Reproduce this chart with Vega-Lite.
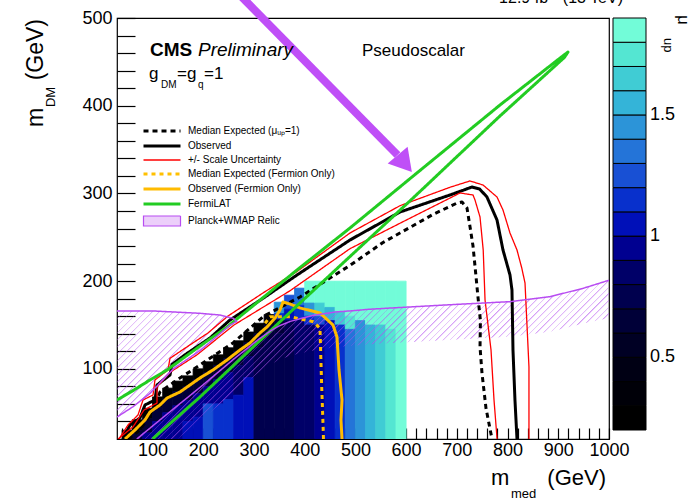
{
"$schema":"https://vega.github.io/schema/vega-lite/v6.json",
"width":492,"height":421,
"autosize":"none",
"padding":{"left":117,"top":18,"right":89,"bottom":62},
"background":"white",
"config":{"view":{"stroke":"black","strokeWidth":1.2},"axis":{"grid":false,"domain":false,"labelFont":"Liberation Sans","labelFontSize":18,"labelColor":"black","tickColor":"black","tickWidth":1.2,"labelFlush":false,"labelOverlap":false,"labelBound":false}},
"resolve":{"scale":{"stroke":"independent","strokeDash":"independent"},"legend":{"stroke":"independent","strokeDash":"independent"},"axis":{"x":"independent","y":"independent"}},
"datasets":{
"heat":[
{"x":40,"x2":60,"y":20,"y2":30,"mu":0.35},
{"x":60,"x2":80,"y":30,"y2":42,"mu":0.25},{"x":60,"x2":80,"y":20,"y2":30,"mu":0.65},
{"x":80,"x2":100,"y":43,"y2":55,"mu":0.25},{"x":80,"x2":100,"y":27,"y2":43,"mu":0.65},{"x":80,"x2":100,"y":20,"y2":27,"mu":0.95},
{"x":100,"x2":120,"y":56,"y2":68,"mu":0.25},{"x":100,"x2":120,"y":40,"y2":56,"mu":0.65},{"x":100,"x2":120,"y":20,"y2":40,"mu":0.95},
{"x":120,"x2":140,"y":66,"y2":78,"mu":0.25},{"x":120,"x2":140,"y":50,"y2":66,"mu":0.65},{"x":120,"x2":140,"y":20,"y2":50,"mu":0.95},
{"x":140,"x2":160,"y":74,"y2":86,"mu":0.25},{"x":140,"x2":160,"y":58,"y2":74,"mu":0.65},{"x":140,"x2":160,"y":20,"y2":58,"mu":0.95},
{"x":160,"x2":180,"y":80,"y2":92,"mu":0.25},{"x":160,"x2":180,"y":64,"y2":80,"mu":0.65},{"x":160,"x2":180,"y":40,"y2":64,"mu":0.95},{"x":160,"x2":180,"y":20,"y2":40,"mu":1.05},
{"x":180,"x2":200,"y":88,"y2":100,"mu":0.25},{"x":180,"x2":200,"y":72,"y2":88,"mu":0.65},{"x":180,"x2":200,"y":45,"y2":72,"mu":0.95},{"x":180,"x2":200,"y":20,"y2":45,"mu":1.05},
{"x":200,"x2":220,"y":96,"y2":108,"mu":0.25},{"x":200,"x2":220,"y":80,"y2":96,"mu":0.65},{"x":200,"x2":220,"y":60,"y2":80,"mu":0.95},{"x":200,"x2":220,"y":20,"y2":60,"mu":1.25},
{"x":220,"x2":240,"y":104,"y2":116,"mu":0.25},{"x":220,"x2":240,"y":88,"y2":104,"mu":0.65},{"x":220,"x2":240,"y":60,"y2":88,"mu":0.95},{"x":220,"x2":240,"y":20,"y2":60,"mu":1.15},
{"x":240,"x2":260,"y":112,"y2":124,"mu":0.25},{"x":240,"x2":260,"y":96,"y2":112,"mu":0.65},{"x":240,"x2":260,"y":65,"y2":96,"mu":0.95},{"x":240,"x2":260,"y":20,"y2":65,"mu":1.15},
{"x":260,"x2":280,"y":120,"y2":132,"mu":0.25},{"x":260,"x2":280,"y":104,"y2":120,"mu":0.65},{"x":260,"x2":280,"y":70,"y2":104,"mu":0.85},{"x":260,"x2":280,"y":20,"y2":70,"mu":1.05},
{"x":280,"x2":300,"y":130,"y2":142,"mu":0.25},{"x":280,"x2":300,"y":114,"y2":130,"mu":0.65},{"x":280,"x2":300,"y":90,"y2":114,"mu":0.85},{"x":280,"x2":300,"y":20,"y2":90,"mu":1.05},
{"x":300,"x2":320,"y":140,"y2":152,"mu":0.25},{"x":300,"x2":320,"y":124,"y2":140,"mu":0.65},{"x":300,"x2":320,"y":20,"y2":124,"mu":0.75},
{"x":320,"x2":340,"y":150,"y2":162,"mu":0.35},{"x":320,"x2":340,"y":134,"y2":150,"mu":0.65},{"x":320,"x2":340,"y":20,"y2":134,"mu":0.75},
{"x":340,"x2":360,"y":163,"y2":176,"mu":1.45},{"x":340,"x2":360,"y":156,"y2":163,"mu":1.15},{"x":340,"x2":360,"y":140,"y2":156,"mu":0.65},{"x":340,"x2":360,"y":20,"y2":140,"mu":0.75},
{"x":360,"x2":380,"y":168,"y2":184,"mu":1.25},{"x":360,"x2":380,"y":155,"y2":168,"mu":1.05},{"x":360,"x2":380,"y":20,"y2":155,"mu":0.75},
{"x":380,"x2":400,"y":172,"y2":192,"mu":1.35},{"x":380,"x2":400,"y":157,"y2":172,"mu":1.15},{"x":380,"x2":400,"y":20,"y2":157,"mu":0.85},
{"x":400,"x2":420,"y":175,"y2":200,"mu":1.85},{"x":400,"x2":420,"y":160,"y2":175,"mu":1.45},{"x":400,"x2":420,"y":150,"y2":160,"mu":1.15},{"x":400,"x2":420,"y":20,"y2":150,"mu":0.85},
{"x":420,"x2":440,"y":175,"y2":200,"mu":1.85},{"x":420,"x2":440,"y":160,"y2":175,"mu":1.65},{"x":420,"x2":440,"y":150,"y2":160,"mu":1.25},{"x":420,"x2":440,"y":20,"y2":150,"mu":0.95},
{"x":440,"x2":460,"y":170,"y2":200,"mu":1.85},{"x":440,"x2":460,"y":155,"y2":170,"mu":1.55},{"x":440,"x2":460,"y":20,"y2":155,"mu":1.05},
{"x":460,"x2":480,"y":165,"y2":200,"mu":1.85},{"x":460,"x2":480,"y":150,"y2":165,"mu":1.65},{"x":460,"x2":480,"y":20,"y2":150,"mu":1.15},
{"x":480,"x2":500,"y":160,"y2":200,"mu":1.85},{"x":480,"x2":500,"y":145,"y2":160,"mu":1.75},{"x":480,"x2":500,"y":20,"y2":145,"mu":1.35},
{"x":500,"x2":520,"y":155,"y2":200,"mu":1.85},{"x":500,"x2":520,"y":20,"y2":155,"mu":1.45},
{"x":520,"x2":540,"y":150,"y2":200,"mu":1.85},{"x":520,"x2":540,"y":20,"y2":150,"mu":1.55},
{"x":540,"x2":560,"y":150,"y2":200,"mu":1.85},{"x":540,"x2":560,"y":20,"y2":150,"mu":1.65},
{"x":560,"x2":580,"y":145,"y2":200,"mu":1.85},{"x":560,"x2":580,"y":20,"y2":145,"mu":1.75},
{"x":580,"x2":600,"y":20,"y2":200,"mu":1.85}
],
"relicfill":[
{"r":"A","x":30,"t":166,"b":45},{"r":"A","x":62,"t":166,"b":57},{"r":"A","x":95,"t":166,"b":72},{"r":"A","x":141,"t":165.5,"b":100},{"r":"A","x":194,"t":163.3,"b":121},{"r":"A","x":227,"t":161.8,"b":137},{"r":"A","x":253,"t":158.5,"b":150},{"r":"A","x":262,"t":156.3,"b":154},{"r":"A","x":266,"t":154,"b":154},
{"r":"B","x":69,"t":20,"b":-18},{"r":"B","x":130,"t":49,"b":11},{"r":"B","x":194,"t":79,"b":41},{"r":"B","x":260,"t":111,"b":73},{"r":"B","x":310,"t":134,"b":96},{"r":"B","x":332,"t":143,"b":105},{"r":"B","x":350,"t":149,"b":110},{"r":"B","x":371,"t":154,"b":115},{"r":"B","x":417,"t":161,"b":121},{"r":"B","x":463,"t":165,"b":125},{"r":"B","x":489,"t":166,"b":126},{"r":"B","x":529,"t":168,"b":128},{"r":"B","x":621,"t":171,"b":131},{"r":"B","x":700,"t":173.5,"b":133.5},{"r":"B","x":805,"t":176.6,"b":136.6},{"r":"B","x":884,"t":182.3,"b":142.3},{"r":"B","x":949,"t":191.8,"b":151.8},{"r":"B","x":1000,"t":201,"b":158}
],
"lines":[
{"s":"Median Expected (μᵤₚ=1)","id":"e","o":0,"x":51.7,"y":20},{"s":"Median Expected (μᵤₚ=1)","id":"e","o":1,"x":75.3,"y":30.3},{"s":"Median Expected (μᵤₚ=1)","id":"e","o":2,"x":95.1,"y":47.4},{"s":"Median Expected (μᵤₚ=1)","id":"e","o":3,"x":114.8,"y":73.6},{"s":"Median Expected (μᵤₚ=1)","id":"e","o":4,"x":154.2,"y":89.6},{"s":"Median Expected (μᵤₚ=1)","id":"e","o":5,"x":193.6,"y":104.4},{"s":"Median Expected (μᵤₚ=1)","id":"e","o":6,"x":258.7,"y":129.5},{"s":"Median Expected (μᵤₚ=1)","id":"e","o":7,"x":319.8,"y":160.2},{"s":"Median Expected (μᵤₚ=1)","id":"e","o":8,"x":390.8,"y":181.9},{"s":"Median Expected (μᵤₚ=1)","id":"e","o":9,"x":489.4,"y":218},{"s":"Median Expected (μᵤₚ=1)","id":"e","o":10,"x":554.4,"y":244},{"s":"Median Expected (μᵤₚ=1)","id":"e","o":11,"x":653,"y":276},{"s":"Median Expected (μᵤₚ=1)","id":"e","o":12,"x":700.3,"y":289},{"s":"Median Expected (μᵤₚ=1)","id":"e","o":13,"x":710.2,"y":290.2},{"s":"Median Expected (μᵤₚ=1)","id":"e","o":14,"x":720,"y":283.4},{"s":"Median Expected (μᵤₚ=1)","id":"e","o":15,"x":726,"y":262},{"s":"Median Expected (μᵤₚ=1)","id":"e","o":16,"x":731.9,"y":240},{"s":"Median Expected (μᵤₚ=1)","id":"e","o":17,"x":737,"y":210},{"s":"Median Expected (μᵤₚ=1)","id":"e","o":18,"x":742,"y":180},{"s":"Median Expected (μᵤₚ=1)","id":"e","o":19,"x":746.5,"y":155},{"s":"Median Expected (μᵤₚ=1)","id":"e","o":20,"x":745.7,"y":125},{"s":"Median Expected (μᵤₚ=1)","id":"e","o":21,"x":749.6,"y":95},{"s":"Median Expected (μᵤₚ=1)","id":"e","o":22,"x":757.5,"y":55},{"s":"Median Expected (μᵤₚ=1)","id":"e","o":23,"x":769.3,"y":20},
{"s":"Observed","id":"o","o":0,"x":41.8,"y":20},{"s":"Observed","id":"o","o":1,"x":55.6,"y":36},{"s":"Observed","id":"o","o":2,"x":75.3,"y":44},{"s":"Observed","id":"o","o":3,"x":85.2,"y":58.8},{"s":"Observed","id":"o","o":4,"x":104.9,"y":64.5},{"s":"Observed","id":"o","o":5,"x":108.9,"y":81.6},{"s":"Observed","id":"o","o":6,"x":134.5,"y":93},{"s":"Observed","id":"o","o":7,"x":138.4,"y":105},{"s":"Observed","id":"o","o":8,"x":164.1,"y":116},{"s":"Observed","id":"o","o":9,"x":213.4,"y":135.2},{"s":"Observed","id":"o","o":10,"x":252.8,"y":155.7},{"s":"Observed","id":"o","o":11,"x":321.8,"y":181.9},{"s":"Observed","id":"o","o":12,"x":384.9,"y":207},{"s":"Observed","id":"o","o":13,"x":489.4,"y":246.9},{"s":"Observed","id":"o","o":14,"x":588,"y":278.8},{"s":"Observed","id":"o","o":15,"x":686.5,"y":298.2},{"s":"Observed","id":"o","o":16,"x":729.9,"y":307.3},{"s":"Observed","id":"o","o":17,"x":745,"y":305},{"s":"Observed","id":"o","o":18,"x":759.4,"y":295.9},{"s":"Observed","id":"o","o":19,"x":779.2,"y":269.7},{"s":"Observed","id":"o","o":20,"x":791,"y":235.5},{"s":"Observed","id":"o","o":21,"x":804.8,"y":207},{"s":"Observed","id":"o","o":22,"x":808.7,"y":189.9},{"s":"Observed","id":"o","o":23,"x":810.7,"y":121.5},{"s":"Observed","id":"o","o":24,"x":814.6,"y":64.5},{"s":"Observed","id":"o","o":25,"x":818.6,"y":20},
{"s":"+/- Scale Uncertainty","id":"r1","o":0,"x":32,"y":20},{"s":"+/- Scale Uncertainty","id":"r1","o":1,"x":61.5,"y":33.7},{"s":"+/- Scale Uncertainty","id":"r1","o":2,"x":83.2,"y":53},{"s":"+/- Scale Uncertainty","id":"r1","o":3,"x":108.9,"y":61},{"s":"+/- Scale Uncertainty","id":"r1","o":4,"x":108.9,"y":79.3},{"s":"+/- Scale Uncertainty","id":"r1","o":5,"x":134.5,"y":96},{"s":"+/- Scale Uncertainty","id":"r1","o":6,"x":187.7,"y":116},{"s":"+/- Scale Uncertainty","id":"r1","o":7,"x":260.7,"y":150},{"s":"+/- Scale Uncertainty","id":"r1","o":8,"x":371,"y":189},{"s":"+/- Scale Uncertainty","id":"r1","o":9,"x":489.4,"y":237},{"s":"+/- Scale Uncertainty","id":"r1","o":10,"x":588,"y":266},{"s":"+/- Scale Uncertainty","id":"r1","o":11,"x":706.3,"y":300.5},{"s":"+/- Scale Uncertainty","id":"r1","o":12,"x":731.9,"y":298.2},{"s":"+/- Scale Uncertainty","id":"r1","o":13,"x":735.8,"y":292.5},{"s":"+/- Scale Uncertainty","id":"r1","o":14,"x":745.7,"y":273.1},{"s":"+/- Scale Uncertainty","id":"r1","o":15,"x":752,"y":235.5},{"s":"+/- Scale Uncertainty","id":"r1","o":16,"x":755.6,"y":178.5},{"s":"+/- Scale Uncertainty","id":"r1","o":17,"x":767.4,"y":121.5},{"s":"+/- Scale Uncertainty","id":"r1","o":18,"x":773.3,"y":64.5},{"s":"+/- Scale Uncertainty","id":"r1","o":19,"x":779.3,"y":20},
{"s":"+/- Scale Uncertainty","id":"r2","o":0,"x":33.9,"y":20},{"s":"+/- Scale Uncertainty","id":"r2","o":1,"x":51.7,"y":36},{"s":"+/- Scale Uncertainty","id":"r2","o":2,"x":71.4,"y":47.4},{"s":"+/- Scale Uncertainty","id":"r2","o":3,"x":81.3,"y":64.5},{"s":"+/- Scale Uncertainty","id":"r2","o":4,"x":101,"y":70.2},{"s":"+/- Scale Uncertainty","id":"r2","o":5,"x":104.9,"y":87.3},{"s":"+/- Scale Uncertainty","id":"r2","o":6,"x":130.5,"y":98.7},{"s":"+/- Scale Uncertainty","id":"r2","o":7,"x":134.5,"y":112},{"s":"+/- Scale Uncertainty","id":"r2","o":8,"x":160.1,"y":122},{"s":"+/- Scale Uncertainty","id":"r2","o":9,"x":209.4,"y":140.9},{"s":"+/- Scale Uncertainty","id":"r2","o":10,"x":248.8,"y":160.2},{"s":"+/- Scale Uncertainty","id":"r2","o":11,"x":317.8,"y":186.5},{"s":"+/- Scale Uncertainty","id":"r2","o":12,"x":384.9,"y":211},{"s":"+/- Scale Uncertainty","id":"r2","o":13,"x":489.4,"y":254.9},{"s":"+/- Scale Uncertainty","id":"r2","o":14,"x":588,"y":286},{"s":"+/- Scale Uncertainty","id":"r2","o":15,"x":686.5,"y":307},{"s":"+/- Scale Uncertainty","id":"r2","o":16,"x":725.9,"y":314.2},{"s":"+/- Scale Uncertainty","id":"r2","o":17,"x":751.6,"y":309.6},{"s":"+/- Scale Uncertainty","id":"r2","o":18,"x":779.2,"y":295.9},{"s":"+/- Scale Uncertainty","id":"r2","o":19,"x":791,"y":281.1},{"s":"+/- Scale Uncertainty","id":"r2","o":20,"x":804.8,"y":254.9},{"s":"+/- Scale Uncertainty","id":"r2","o":21,"x":818.6,"y":235.5},{"s":"+/- Scale Uncertainty","id":"r2","o":22,"x":828,"y":215},{"s":"+/- Scale Uncertainty","id":"r2","o":23,"x":834.4,"y":197.9},{"s":"+/- Scale Uncertainty","id":"r2","o":24,"x":842.2,"y":102.1},{"s":"+/- Scale Uncertainty","id":"r2","o":25,"x":842.2,"y":20},
{"s":"Median Expected (Fermion Only)","id":"fe","o":0,"x":322,"y":152},{"s":"Median Expected (Fermion Only)","id":"fe","o":1,"x":331.6,"y":159.4},{"s":"Median Expected (Fermion Only)","id":"fe","o":2,"x":371.1,"y":159.4},{"s":"Median Expected (Fermion Only)","id":"fe","o":3,"x":417,"y":153.7},{"s":"Median Expected (Fermion Only)","id":"fe","o":4,"x":430.2,"y":146.2},{"s":"Median Expected (Fermion Only)","id":"fe","o":5,"x":431.6,"y":117.7},{"s":"Median Expected (Fermion Only)","id":"fe","o":6,"x":433.6,"y":79.6},{"s":"Median Expected (Fermion Only)","id":"fe","o":7,"x":436.8,"y":26.5},{"s":"Median Expected (Fermion Only)","id":"fe","o":8,"x":437,"y":20},
{"s":"Observed (Fermion Only)","id":"fo","o":0,"x":45.8,"y":20},{"s":"Observed (Fermion Only)","id":"fo","o":1,"x":65.5,"y":30.3},{"s":"Observed (Fermion Only)","id":"fo","o":2,"x":85.2,"y":41.7},{"s":"Observed (Fermion Only)","id":"fo","o":3,"x":95.1,"y":50.8},{"s":"Observed (Fermion Only)","id":"fo","o":4,"x":114.8,"y":58.8},{"s":"Observed (Fermion Only)","id":"fo","o":5,"x":128.6,"y":66.7},{"s":"Observed (Fermion Only)","id":"fo","o":6,"x":154.2,"y":73.6},{"s":"Observed (Fermion Only)","id":"fo","o":7,"x":173.9,"y":81.6},{"s":"Observed (Fermion Only)","id":"fo","o":8,"x":193.6,"y":89.6},{"s":"Observed (Fermion Only)","id":"fo","o":9,"x":219.3,"y":98.7},{"s":"Observed (Fermion Only)","id":"fo","o":10,"x":246.9,"y":110.1},{"s":"Observed (Fermion Only)","id":"fo","o":11,"x":272.5,"y":121.5},{"s":"Observed (Fermion Only)","id":"fo","o":12,"x":292.2,"y":129.5},{"s":"Observed (Fermion Only)","id":"fo","o":13,"x":311.9,"y":140.9},{"s":"Observed (Fermion Only)","id":"fo","o":14,"x":325.7,"y":147.7},{"s":"Observed (Fermion Only)","id":"fo","o":15,"x":341.5,"y":157.9},{"s":"Observed (Fermion Only)","id":"fo","o":16,"x":351.4,"y":167},{"s":"Observed (Fermion Only)","id":"fo","o":17,"x":357.3,"y":176.2},{"s":"Observed (Fermion Only)","id":"fo","o":18,"x":371.1,"y":173.9},{"s":"Observed (Fermion Only)","id":"fo","o":19,"x":390.8,"y":169.4},{"s":"Observed (Fermion Only)","id":"fo","o":20,"x":430.2,"y":163.7},{"s":"Observed (Fermion Only)","id":"fo","o":21,"x":455.8,"y":150},{"s":"Observed (Fermion Only)","id":"fo","o":22,"x":463.7,"y":136.3},{"s":"Observed (Fermion Only)","id":"fo","o":23,"x":467.7,"y":98.7},{"s":"Observed (Fermion Only)","id":"fo","o":24,"x":473.6,"y":64.5},{"s":"Observed (Fermion Only)","id":"fo","o":25,"x":471.6,"y":41.7},{"s":"Observed (Fermion Only)","id":"fo","o":26,"x":473.6,"y":20},
{"s":"FermiLAT","id":"g","o":0,"x":30,"y":64.5},{"s":"FermiLAT","id":"g","o":1,"x":63.5,"y":75.9},{"s":"FermiLAT","id":"g","o":2,"x":95.1,"y":87.3},{"s":"FermiLAT","id":"g","o":3,"x":128.6,"y":98.7},{"s":"FermiLAT","id":"g","o":4,"x":193.6,"y":126},{"s":"FermiLAT","id":"g","o":5,"x":246.9,"y":147.7},{"s":"FermiLAT","id":"g","o":6,"x":384.9,"y":212.7},{"s":"FermiLAT","id":"g","o":7,"x":489.4,"y":260.6},{"s":"FermiLAT","id":"g","o":8,"x":611.6,"y":318.7},{"s":"FermiLAT","id":"g","o":9,"x":785.1,"y":400.8},{"s":"FermiLAT","id":"g","o":10,"x":905,"y":455},{"s":"FermiLAT","id":"g","o":11,"x":919.2,"y":461.2},{"s":"FermiLAT","id":"g","o":12,"x":912,"y":455},{"s":"FermiLAT","id":"g","o":13,"x":785.1,"y":388.3},{"s":"FermiLAT","id":"g","o":14,"x":611.6,"y":293.6},{"s":"FermiLAT","id":"g","o":15,"x":503.2,"y":235.5},{"s":"FermiLAT","id":"g","o":16,"x":390.8,"y":175.1},{"s":"FermiLAT","id":"g","o":17,"x":292.2,"y":121.5},{"s":"FermiLAT","id":"g","o":18,"x":193.6,"y":67.9},{"s":"FermiLAT","id":"g","o":19,"x":100,"y":20},
{"s":"Planck+WMAP Relic","id":"ra","o":0,"x":30,"y":166},{"s":"Planck+WMAP Relic","id":"ra","o":1,"x":100,"y":166},{"s":"Planck+WMAP Relic","id":"ra","o":2,"x":194,"y":163.3},{"s":"Planck+WMAP Relic","id":"ra","o":3,"x":233,"y":161.4},{"s":"Planck+WMAP Relic","id":"ra","o":4,"x":259,"y":157.6},{"s":"Planck+WMAP Relic","id":"ra","o":5,"x":266,"y":154},{"s":"Planck+WMAP Relic","id":"ra","o":6,"x":253,"y":150},{"s":"Planck+WMAP Relic","id":"ra","o":7,"x":227,"y":137},{"s":"Planck+WMAP Relic","id":"ra","o":8,"x":194,"y":121},{"s":"Planck+WMAP Relic","id":"ra","o":9,"x":141,"y":100},{"s":"Planck+WMAP Relic","id":"ra","o":10,"x":95,"y":72},{"s":"Planck+WMAP Relic","id":"ra","o":11,"x":62,"y":57},{"s":"Planck+WMAP Relic","id":"ra","o":12,"x":30,"y":45},
{"s":"Planck+WMAP Relic","id":"rb","o":0,"x":69,"y":20},{"s":"Planck+WMAP Relic","id":"rb","o":1,"x":130,"y":49},{"s":"Planck+WMAP Relic","id":"rb","o":2,"x":194,"y":79},{"s":"Planck+WMAP Relic","id":"rb","o":3,"x":260,"y":111},{"s":"Planck+WMAP Relic","id":"rb","o":4,"x":310,"y":134},{"s":"Planck+WMAP Relic","id":"rb","o":5,"x":332,"y":143},{"s":"Planck+WMAP Relic","id":"rb","o":6,"x":350,"y":149},{"s":"Planck+WMAP Relic","id":"rb","o":7,"x":371,"y":154},{"s":"Planck+WMAP Relic","id":"rb","o":8,"x":417,"y":161},{"s":"Planck+WMAP Relic","id":"rb","o":9,"x":463,"y":165},{"s":"Planck+WMAP Relic","id":"rb","o":10,"x":489,"y":166},{"s":"Planck+WMAP Relic","id":"rb","o":11,"x":529,"y":168},{"s":"Planck+WMAP Relic","id":"rb","o":12,"x":621,"y":171},{"s":"Planck+WMAP Relic","id":"rb","o":13,"x":700,"y":173.5},{"s":"Planck+WMAP Relic","id":"rb","o":14,"x":805,"y":176.6},{"s":"Planck+WMAP Relic","id":"rb","o":15,"x":884,"y":182.3},{"s":"Planck+WMAP Relic","id":"rb","o":16,"x":949,"y":191.8},{"s":"Planck+WMAP Relic","id":"rb","o":17,"x":1000,"y":201}
],
"arrow":[{"x":262.6,"y":531.9,"o":0},{"x":583,"y":343.8,"o":1}],
"head":[{"x":597.3,"y":334.1}],
"one":[{}]
},
"layer":[
{"data":{"name":"heat"},
 "mark":{"type":"rect","clip":true,"strokeWidth":0.8},
 "encoding":{
  "x":{"field":"x","type":"quantitative","title":null,"scale":{"domain":[30,1000],"nice":false,"zero":false},
   "axis":{"orient":"bottom","values":[40,60,80,100,120,140,160,180,200,220,240,260,280,300,320,340,360,380,400,420,440,460,480,500,520,540,560,580,600,620,640,660,680,700,720,740,760,780,800,820,840,860,880,900,920,940,960,980,1000],"format":"d","labelExpr":"datum.value % 100 === 0 ? datum.label : ''","tickSize":-11,"labelPadding":13,"encode":{"ticks":{"update":{"y2":{"signal":"datum.value % 100 === 0 ? -11 : -6"}}}}}},
  "x2":{"field":"x2"},
  "y":{"field":"y","type":"quantitative","title":null,"scale":{"domain":[20,500],"nice":false,"zero":false},
   "axis":{"orient":"left","values":[40,60,80,100,120,140,160,180,200,220,240,260,280,300,320,340,360,380,400,420,440,460,480,500],"format":"d","labelExpr":"datum.value % 100 === 0 ? datum.label : ''","tickSize":-18,"labelPadding":23,"encode":{"ticks":{"update":{"x2":{"signal":"datum.value % 100 === 0 ? 18 : 9"}}}}}},
  "y2":{"field":"y2"},
  "fill":{"field":"mu","type":"quantitative",
   "scale":{"type":"quantize","domain":[0.2,1.9],"range":["#000000","#000008","#000014","#000024","#000038","#00004e","#000068","#000090","#0010b8","#0830cc","#1850d4","#2474d8","#2c94d8","#34b4d8","#40ccd4","#54e6d2","#72fcd8"]},
   "legend":{"type":"gradient","orient":"none","legendX":496,"legendY":0,"direction":"vertical","gradientLength":412,"gradientThickness":33,"title":null,"padding":0,"labelFont":"Liberation Sans","labelFontSize":18,"labelColor":"black","labelOffset":4,"labelOverlap":false,"gradientStrokeColor":"black","gradientStrokeWidth":1,
    "labelExpr":"abs(datum.value-0.5)<0.01 ? '0.5' : abs(datum.value-1)<0.01 ? '1' : abs(datum.value-1.5)<0.01 ? '1.5' : ''"}},
  "stroke":{"field":"mu","type":"quantitative","legend":null,
   "scale":{"type":"quantize","domain":[0.2,1.9],"range":["#000000","#000008","#000014","#000024","#000038","#00004e","#000068","#000090","#0010b8","#0830cc","#1850d4","#2474d8","#2c94d8","#34b4d8","#40ccd4","#54e6d2","#72fcd8"]}}
 }},
{"data":{"name":"relicfill"},
 "transform":[{"filter":"datum.r === 'A'"}],
 "mark":{"type":"area","clip":true,"fill":{"gradient":"linear","x1":0,"y1":0,"x2":1.057,"y2":0.936,"stops":[
{"offset":0,"color":"rgba(180,80,240,0.6)"},{"offset":0.009,"color":"rgba(180,80,240,0)"},{"offset":0.03125,"color":"rgba(180,80,240,0)"},
{"offset":0.03125,"color":"rgba(180,80,240,0.6)"},{"offset":0.04025,"color":"rgba(180,80,240,0)"},{"offset":0.0625,"color":"rgba(180,80,240,0)"},
{"offset":0.0625,"color":"rgba(180,80,240,0.6)"},{"offset":0.0715,"color":"rgba(180,80,240,0)"},{"offset":0.09375,"color":"rgba(180,80,240,0)"},
{"offset":0.09375,"color":"rgba(180,80,240,0.6)"},{"offset":0.10275,"color":"rgba(180,80,240,0)"},{"offset":0.125,"color":"rgba(180,80,240,0)"},
{"offset":0.125,"color":"rgba(180,80,240,0.6)"},{"offset":0.134,"color":"rgba(180,80,240,0)"},{"offset":0.15625,"color":"rgba(180,80,240,0)"},
{"offset":0.15625,"color":"rgba(180,80,240,0.6)"},{"offset":0.16525,"color":"rgba(180,80,240,0)"},{"offset":0.1875,"color":"rgba(180,80,240,0)"},
{"offset":0.1875,"color":"rgba(180,80,240,0.6)"},{"offset":0.1965,"color":"rgba(180,80,240,0)"},{"offset":0.21875,"color":"rgba(180,80,240,0)"},
{"offset":0.21875,"color":"rgba(180,80,240,0.6)"},{"offset":0.22775,"color":"rgba(180,80,240,0)"},{"offset":0.25,"color":"rgba(180,80,240,0)"},
{"offset":0.25,"color":"rgba(180,80,240,0.6)"},{"offset":0.259,"color":"rgba(180,80,240,0)"},{"offset":0.28125,"color":"rgba(180,80,240,0)"},
{"offset":0.28125,"color":"rgba(180,80,240,0.6)"},{"offset":0.29025,"color":"rgba(180,80,240,0)"},{"offset":0.3125,"color":"rgba(180,80,240,0)"},
{"offset":0.3125,"color":"rgba(180,80,240,0.6)"},{"offset":0.3215,"color":"rgba(180,80,240,0)"},{"offset":0.34375,"color":"rgba(180,80,240,0)"},
{"offset":0.34375,"color":"rgba(180,80,240,0.6)"},{"offset":0.35275,"color":"rgba(180,80,240,0)"},{"offset":0.375,"color":"rgba(180,80,240,0)"},
{"offset":0.375,"color":"rgba(180,80,240,0.6)"},{"offset":0.384,"color":"rgba(180,80,240,0)"},{"offset":0.40625,"color":"rgba(180,80,240,0)"},
{"offset":0.40625,"color":"rgba(180,80,240,0.6)"},{"offset":0.41525,"color":"rgba(180,80,240,0)"},{"offset":0.4375,"color":"rgba(180,80,240,0)"},
{"offset":0.4375,"color":"rgba(180,80,240,0.6)"},{"offset":0.4465,"color":"rgba(180,80,240,0)"},{"offset":0.46875,"color":"rgba(180,80,240,0)"},
{"offset":0.46875,"color":"rgba(180,80,240,0.6)"},{"offset":0.47775,"color":"rgba(180,80,240,0)"},{"offset":0.5,"color":"rgba(180,80,240,0)"},
{"offset":0.5,"color":"rgba(180,80,240,0.6)"},{"offset":0.509,"color":"rgba(180,80,240,0)"},{"offset":0.53125,"color":"rgba(180,80,240,0)"},
{"offset":0.53125,"color":"rgba(180,80,240,0.6)"},{"offset":0.54025,"color":"rgba(180,80,240,0)"},{"offset":0.5625,"color":"rgba(180,80,240,0)"},
{"offset":0.5625,"color":"rgba(180,80,240,0.6)"},{"offset":0.5715,"color":"rgba(180,80,240,0)"},{"offset":0.59375,"color":"rgba(180,80,240,0)"},
{"offset":0.59375,"color":"rgba(180,80,240,0.6)"},{"offset":0.60275,"color":"rgba(180,80,240,0)"},{"offset":0.625,"color":"rgba(180,80,240,0)"},
{"offset":0.625,"color":"rgba(180,80,240,0.6)"},{"offset":0.634,"color":"rgba(180,80,240,0)"},{"offset":0.65625,"color":"rgba(180,80,240,0)"},
{"offset":0.65625,"color":"rgba(180,80,240,0.6)"},{"offset":0.66525,"color":"rgba(180,80,240,0)"},{"offset":0.6875,"color":"rgba(180,80,240,0)"},
{"offset":0.6875,"color":"rgba(180,80,240,0.6)"},{"offset":0.6965,"color":"rgba(180,80,240,0)"},{"offset":0.71875,"color":"rgba(180,80,240,0)"},
{"offset":0.71875,"color":"rgba(180,80,240,0.6)"},{"offset":0.72775,"color":"rgba(180,80,240,0)"},{"offset":0.75,"color":"rgba(180,80,240,0)"},
{"offset":0.75,"color":"rgba(180,80,240,0.6)"},{"offset":0.759,"color":"rgba(180,80,240,0)"},{"offset":0.78125,"color":"rgba(180,80,240,0)"},
{"offset":0.78125,"color":"rgba(180,80,240,0.6)"},{"offset":0.79025,"color":"rgba(180,80,240,0)"},{"offset":0.8125,"color":"rgba(180,80,240,0)"},
{"offset":0.8125,"color":"rgba(180,80,240,0.6)"},{"offset":0.8215,"color":"rgba(180,80,240,0)"},{"offset":0.84375,"color":"rgba(180,80,240,0)"},
{"offset":0.84375,"color":"rgba(180,80,240,0.6)"},{"offset":0.85275,"color":"rgba(180,80,240,0)"},{"offset":0.875,"color":"rgba(180,80,240,0)"},
{"offset":0.875,"color":"rgba(180,80,240,0.6)"},{"offset":0.884,"color":"rgba(180,80,240,0)"},{"offset":0.90625,"color":"rgba(180,80,240,0)"},
{"offset":0.90625,"color":"rgba(180,80,240,0.6)"},{"offset":0.91525,"color":"rgba(180,80,240,0)"},{"offset":0.9375,"color":"rgba(180,80,240,0)"},
{"offset":0.9375,"color":"rgba(180,80,240,0.6)"},{"offset":0.9465,"color":"rgba(180,80,240,0)"},{"offset":0.96875,"color":"rgba(180,80,240,0)"},
{"offset":0.96875,"color":"rgba(180,80,240,0.6)"},{"offset":0.97775,"color":"rgba(180,80,240,0)"},{"offset":1,"color":"rgba(180,80,240,0)"}
]}},
 "encoding":{
  "x":{"field":"x","type":"quantitative","title":null,"axis":null,"scale":{"domain":[30,1000],"nice":false,"zero":false}},
  "y":{"field":"t","type":"quantitative","title":null,"axis":null,"scale":{"domain":[20,500],"nice":false,"zero":false}},
  "y2":{"field":"b"}
 }},
{"data":{"name":"relicfill"},
 "transform":[{"filter":"datum.r === 'B'"}],
 "mark":{"type":"area","clip":true,"fill":{"gradient":"linear","x1":0,"y1":0,"x2":1.207,"y2":0.491,"stops":[
{"offset":0,"color":"rgba(180,80,240,0.6)"},{"offset":0.003,"color":"rgba(180,80,240,0)"},{"offset":0.01,"color":"rgba(180,80,240,0)"},
{"offset":0.01,"color":"rgba(180,80,240,0.6)"},{"offset":0.013,"color":"rgba(180,80,240,0)"},{"offset":0.02,"color":"rgba(180,80,240,0)"},
{"offset":0.02,"color":"rgba(180,80,240,0.6)"},{"offset":0.023,"color":"rgba(180,80,240,0)"},{"offset":0.03,"color":"rgba(180,80,240,0)"},
{"offset":0.03,"color":"rgba(180,80,240,0.6)"},{"offset":0.033,"color":"rgba(180,80,240,0)"},{"offset":0.04,"color":"rgba(180,80,240,0)"},
{"offset":0.04,"color":"rgba(180,80,240,0.6)"},{"offset":0.043,"color":"rgba(180,80,240,0)"},{"offset":0.05,"color":"rgba(180,80,240,0)"},
{"offset":0.05,"color":"rgba(180,80,240,0.6)"},{"offset":0.053,"color":"rgba(180,80,240,0)"},{"offset":0.06,"color":"rgba(180,80,240,0)"},
{"offset":0.06,"color":"rgba(180,80,240,0.6)"},{"offset":0.063,"color":"rgba(180,80,240,0)"},{"offset":0.07,"color":"rgba(180,80,240,0)"},
{"offset":0.07,"color":"rgba(180,80,240,0.6)"},{"offset":0.073,"color":"rgba(180,80,240,0)"},{"offset":0.08,"color":"rgba(180,80,240,0)"},
{"offset":0.08,"color":"rgba(180,80,240,0.6)"},{"offset":0.083,"color":"rgba(180,80,240,0)"},{"offset":0.09,"color":"rgba(180,80,240,0)"},
{"offset":0.09,"color":"rgba(180,80,240,0.6)"},{"offset":0.093,"color":"rgba(180,80,240,0)"},{"offset":0.1,"color":"rgba(180,80,240,0)"},
{"offset":0.1,"color":"rgba(180,80,240,0.6)"},{"offset":0.103,"color":"rgba(180,80,240,0)"},{"offset":0.11,"color":"rgba(180,80,240,0)"},
{"offset":0.11,"color":"rgba(180,80,240,0.6)"},{"offset":0.113,"color":"rgba(180,80,240,0)"},{"offset":0.12,"color":"rgba(180,80,240,0)"},
{"offset":0.12,"color":"rgba(180,80,240,0.6)"},{"offset":0.123,"color":"rgba(180,80,240,0)"},{"offset":0.13,"color":"rgba(180,80,240,0)"},
{"offset":0.13,"color":"rgba(180,80,240,0.6)"},{"offset":0.133,"color":"rgba(180,80,240,0)"},{"offset":0.14,"color":"rgba(180,80,240,0)"},
{"offset":0.14,"color":"rgba(180,80,240,0.6)"},{"offset":0.143,"color":"rgba(180,80,240,0)"},{"offset":0.15,"color":"rgba(180,80,240,0)"},
{"offset":0.15,"color":"rgba(180,80,240,0.6)"},{"offset":0.153,"color":"rgba(180,80,240,0)"},{"offset":0.16,"color":"rgba(180,80,240,0)"},
{"offset":0.16,"color":"rgba(180,80,240,0.6)"},{"offset":0.163,"color":"rgba(180,80,240,0)"},{"offset":0.17,"color":"rgba(180,80,240,0)"},
{"offset":0.17,"color":"rgba(180,80,240,0.6)"},{"offset":0.173,"color":"rgba(180,80,240,0)"},{"offset":0.18,"color":"rgba(180,80,240,0)"},
{"offset":0.18,"color":"rgba(180,80,240,0.6)"},{"offset":0.183,"color":"rgba(180,80,240,0)"},{"offset":0.19,"color":"rgba(180,80,240,0)"},
{"offset":0.19,"color":"rgba(180,80,240,0.6)"},{"offset":0.193,"color":"rgba(180,80,240,0)"},{"offset":0.2,"color":"rgba(180,80,240,0)"},
{"offset":0.2,"color":"rgba(180,80,240,0.6)"},{"offset":0.203,"color":"rgba(180,80,240,0)"},{"offset":0.21,"color":"rgba(180,80,240,0)"},
{"offset":0.21,"color":"rgba(180,80,240,0.6)"},{"offset":0.213,"color":"rgba(180,80,240,0)"},{"offset":0.22,"color":"rgba(180,80,240,0)"},
{"offset":0.22,"color":"rgba(180,80,240,0.6)"},{"offset":0.223,"color":"rgba(180,80,240,0)"},{"offset":0.23,"color":"rgba(180,80,240,0)"},
{"offset":0.23,"color":"rgba(180,80,240,0.6)"},{"offset":0.233,"color":"rgba(180,80,240,0)"},{"offset":0.24,"color":"rgba(180,80,240,0)"},
{"offset":0.24,"color":"rgba(180,80,240,0.6)"},{"offset":0.243,"color":"rgba(180,80,240,0)"},{"offset":0.25,"color":"rgba(180,80,240,0)"},
{"offset":0.25,"color":"rgba(180,80,240,0.6)"},{"offset":0.253,"color":"rgba(180,80,240,0)"},{"offset":0.26,"color":"rgba(180,80,240,0)"},
{"offset":0.26,"color":"rgba(180,80,240,0.6)"},{"offset":0.263,"color":"rgba(180,80,240,0)"},{"offset":0.27,"color":"rgba(180,80,240,0)"},
{"offset":0.27,"color":"rgba(180,80,240,0.6)"},{"offset":0.273,"color":"rgba(180,80,240,0)"},{"offset":0.28,"color":"rgba(180,80,240,0)"},
{"offset":0.28,"color":"rgba(180,80,240,0.6)"},{"offset":0.283,"color":"rgba(180,80,240,0)"},{"offset":0.29,"color":"rgba(180,80,240,0)"},
{"offset":0.29,"color":"rgba(180,80,240,0.6)"},{"offset":0.293,"color":"rgba(180,80,240,0)"},{"offset":0.3,"color":"rgba(180,80,240,0)"},
{"offset":0.3,"color":"rgba(180,80,240,0.6)"},{"offset":0.303,"color":"rgba(180,80,240,0)"},{"offset":0.31,"color":"rgba(180,80,240,0)"},
{"offset":0.31,"color":"rgba(180,80,240,0.6)"},{"offset":0.313,"color":"rgba(180,80,240,0)"},{"offset":0.32,"color":"rgba(180,80,240,0)"},
{"offset":0.32,"color":"rgba(180,80,240,0.6)"},{"offset":0.323,"color":"rgba(180,80,240,0)"},{"offset":0.33,"color":"rgba(180,80,240,0)"},
{"offset":0.33,"color":"rgba(180,80,240,0.6)"},{"offset":0.333,"color":"rgba(180,80,240,0)"},{"offset":0.34,"color":"rgba(180,80,240,0)"},
{"offset":0.34,"color":"rgba(180,80,240,0.6)"},{"offset":0.343,"color":"rgba(180,80,240,0)"},{"offset":0.35,"color":"rgba(180,80,240,0)"},
{"offset":0.35,"color":"rgba(180,80,240,0.6)"},{"offset":0.353,"color":"rgba(180,80,240,0)"},{"offset":0.36,"color":"rgba(180,80,240,0)"},
{"offset":0.36,"color":"rgba(180,80,240,0.6)"},{"offset":0.363,"color":"rgba(180,80,240,0)"},{"offset":0.37,"color":"rgba(180,80,240,0)"},
{"offset":0.37,"color":"rgba(180,80,240,0.6)"},{"offset":0.373,"color":"rgba(180,80,240,0)"},{"offset":0.38,"color":"rgba(180,80,240,0)"},
{"offset":0.38,"color":"rgba(180,80,240,0.6)"},{"offset":0.383,"color":"rgba(180,80,240,0)"},{"offset":0.39,"color":"rgba(180,80,240,0)"},
{"offset":0.39,"color":"rgba(180,80,240,0.6)"},{"offset":0.393,"color":"rgba(180,80,240,0)"},{"offset":0.4,"color":"rgba(180,80,240,0)"},
{"offset":0.4,"color":"rgba(180,80,240,0.6)"},{"offset":0.403,"color":"rgba(180,80,240,0)"},{"offset":0.41,"color":"rgba(180,80,240,0)"},
{"offset":0.41,"color":"rgba(180,80,240,0.6)"},{"offset":0.413,"color":"rgba(180,80,240,0)"},{"offset":0.42,"color":"rgba(180,80,240,0)"},
{"offset":0.42,"color":"rgba(180,80,240,0.6)"},{"offset":0.423,"color":"rgba(180,80,240,0)"},{"offset":0.43,"color":"rgba(180,80,240,0)"},
{"offset":0.43,"color":"rgba(180,80,240,0.6)"},{"offset":0.433,"color":"rgba(180,80,240,0)"},{"offset":0.44,"color":"rgba(180,80,240,0)"},
{"offset":0.44,"color":"rgba(180,80,240,0.6)"},{"offset":0.443,"color":"rgba(180,80,240,0)"},{"offset":0.45,"color":"rgba(180,80,240,0)"},
{"offset":0.45,"color":"rgba(180,80,240,0.6)"},{"offset":0.453,"color":"rgba(180,80,240,0)"},{"offset":0.46,"color":"rgba(180,80,240,0)"},
{"offset":0.46,"color":"rgba(180,80,240,0.6)"},{"offset":0.463,"color":"rgba(180,80,240,0)"},{"offset":0.47,"color":"rgba(180,80,240,0)"},
{"offset":0.47,"color":"rgba(180,80,240,0.6)"},{"offset":0.473,"color":"rgba(180,80,240,0)"},{"offset":0.48,"color":"rgba(180,80,240,0)"},
{"offset":0.48,"color":"rgba(180,80,240,0.6)"},{"offset":0.483,"color":"rgba(180,80,240,0)"},{"offset":0.49,"color":"rgba(180,80,240,0)"},
{"offset":0.49,"color":"rgba(180,80,240,0.6)"},{"offset":0.493,"color":"rgba(180,80,240,0)"},{"offset":0.5,"color":"rgba(180,80,240,0)"},
{"offset":0.5,"color":"rgba(180,80,240,0.6)"},{"offset":0.503,"color":"rgba(180,80,240,0)"},{"offset":0.51,"color":"rgba(180,80,240,0)"},
{"offset":0.51,"color":"rgba(180,80,240,0.6)"},{"offset":0.513,"color":"rgba(180,80,240,0)"},{"offset":0.52,"color":"rgba(180,80,240,0)"},
{"offset":0.52,"color":"rgba(180,80,240,0.6)"},{"offset":0.523,"color":"rgba(180,80,240,0)"},{"offset":0.53,"color":"rgba(180,80,240,0)"},
{"offset":0.53,"color":"rgba(180,80,240,0.6)"},{"offset":0.533,"color":"rgba(180,80,240,0)"},{"offset":0.54,"color":"rgba(180,80,240,0)"},
{"offset":0.54,"color":"rgba(180,80,240,0.6)"},{"offset":0.543,"color":"rgba(180,80,240,0)"},{"offset":0.55,"color":"rgba(180,80,240,0)"},
{"offset":0.55,"color":"rgba(180,80,240,0.6)"},{"offset":0.553,"color":"rgba(180,80,240,0)"},{"offset":0.56,"color":"rgba(180,80,240,0)"},
{"offset":0.56,"color":"rgba(180,80,240,0.6)"},{"offset":0.563,"color":"rgba(180,80,240,0)"},{"offset":0.57,"color":"rgba(180,80,240,0)"},
{"offset":0.57,"color":"rgba(180,80,240,0.6)"},{"offset":0.573,"color":"rgba(180,80,240,0)"},{"offset":0.58,"color":"rgba(180,80,240,0)"},
{"offset":0.58,"color":"rgba(180,80,240,0.6)"},{"offset":0.583,"color":"rgba(180,80,240,0)"},{"offset":0.59,"color":"rgba(180,80,240,0)"},
{"offset":0.59,"color":"rgba(180,80,240,0.6)"},{"offset":0.593,"color":"rgba(180,80,240,0)"},{"offset":0.6,"color":"rgba(180,80,240,0)"},
{"offset":0.6,"color":"rgba(180,80,240,0.6)"},{"offset":0.603,"color":"rgba(180,80,240,0)"},{"offset":0.61,"color":"rgba(180,80,240,0)"},
{"offset":0.61,"color":"rgba(180,80,240,0.6)"},{"offset":0.613,"color":"rgba(180,80,240,0)"},{"offset":0.62,"color":"rgba(180,80,240,0)"},
{"offset":0.62,"color":"rgba(180,80,240,0.6)"},{"offset":0.623,"color":"rgba(180,80,240,0)"},{"offset":0.63,"color":"rgba(180,80,240,0)"},
{"offset":0.63,"color":"rgba(180,80,240,0.6)"},{"offset":0.633,"color":"rgba(180,80,240,0)"},{"offset":0.64,"color":"rgba(180,80,240,0)"},
{"offset":0.64,"color":"rgba(180,80,240,0.6)"},{"offset":0.643,"color":"rgba(180,80,240,0)"},{"offset":0.65,"color":"rgba(180,80,240,0)"},
{"offset":0.65,"color":"rgba(180,80,240,0.6)"},{"offset":0.653,"color":"rgba(180,80,240,0)"},{"offset":0.66,"color":"rgba(180,80,240,0)"},
{"offset":0.66,"color":"rgba(180,80,240,0.6)"},{"offset":0.663,"color":"rgba(180,80,240,0)"},{"offset":0.67,"color":"rgba(180,80,240,0)"},
{"offset":0.67,"color":"rgba(180,80,240,0.6)"},{"offset":0.673,"color":"rgba(180,80,240,0)"},{"offset":0.68,"color":"rgba(180,80,240,0)"},
{"offset":0.68,"color":"rgba(180,80,240,0.6)"},{"offset":0.683,"color":"rgba(180,80,240,0)"},{"offset":0.69,"color":"rgba(180,80,240,0)"},
{"offset":0.69,"color":"rgba(180,80,240,0.6)"},{"offset":0.693,"color":"rgba(180,80,240,0)"},{"offset":0.7,"color":"rgba(180,80,240,0)"},
{"offset":0.7,"color":"rgba(180,80,240,0.6)"},{"offset":0.703,"color":"rgba(180,80,240,0)"},{"offset":0.71,"color":"rgba(180,80,240,0)"},
{"offset":0.71,"color":"rgba(180,80,240,0.6)"},{"offset":0.713,"color":"rgba(180,80,240,0)"},{"offset":0.72,"color":"rgba(180,80,240,0)"},
{"offset":0.72,"color":"rgba(180,80,240,0.6)"},{"offset":0.723,"color":"rgba(180,80,240,0)"},{"offset":0.73,"color":"rgba(180,80,240,0)"},
{"offset":0.73,"color":"rgba(180,80,240,0.6)"},{"offset":0.733,"color":"rgba(180,80,240,0)"},{"offset":0.74,"color":"rgba(180,80,240,0)"},
{"offset":0.74,"color":"rgba(180,80,240,0.6)"},{"offset":0.743,"color":"rgba(180,80,240,0)"},{"offset":0.75,"color":"rgba(180,80,240,0)"},
{"offset":0.75,"color":"rgba(180,80,240,0.6)"},{"offset":0.753,"color":"rgba(180,80,240,0)"},{"offset":0.76,"color":"rgba(180,80,240,0)"},
{"offset":0.76,"color":"rgba(180,80,240,0.6)"},{"offset":0.763,"color":"rgba(180,80,240,0)"},{"offset":0.77,"color":"rgba(180,80,240,0)"},
{"offset":0.77,"color":"rgba(180,80,240,0.6)"},{"offset":0.773,"color":"rgba(180,80,240,0)"},{"offset":0.78,"color":"rgba(180,80,240,0)"},
{"offset":0.78,"color":"rgba(180,80,240,0.6)"},{"offset":0.783,"color":"rgba(180,80,240,0)"},{"offset":0.79,"color":"rgba(180,80,240,0)"},
{"offset":0.79,"color":"rgba(180,80,240,0.6)"},{"offset":0.793,"color":"rgba(180,80,240,0)"},{"offset":0.8,"color":"rgba(180,80,240,0)"},
{"offset":0.8,"color":"rgba(180,80,240,0.6)"},{"offset":0.803,"color":"rgba(180,80,240,0)"},{"offset":0.81,"color":"rgba(180,80,240,0)"},
{"offset":0.81,"color":"rgba(180,80,240,0.6)"},{"offset":0.813,"color":"rgba(180,80,240,0)"},{"offset":0.82,"color":"rgba(180,80,240,0)"},
{"offset":0.82,"color":"rgba(180,80,240,0.6)"},{"offset":0.823,"color":"rgba(180,80,240,0)"},{"offset":0.83,"color":"rgba(180,80,240,0)"},
{"offset":0.83,"color":"rgba(180,80,240,0.6)"},{"offset":0.833,"color":"rgba(180,80,240,0)"},{"offset":0.84,"color":"rgba(180,80,240,0)"},
{"offset":0.84,"color":"rgba(180,80,240,0.6)"},{"offset":0.843,"color":"rgba(180,80,240,0)"},{"offset":0.85,"color":"rgba(180,80,240,0)"},
{"offset":0.85,"color":"rgba(180,80,240,0.6)"},{"offset":0.853,"color":"rgba(180,80,240,0)"},{"offset":0.86,"color":"rgba(180,80,240,0)"},
{"offset":0.86,"color":"rgba(180,80,240,0.6)"},{"offset":0.863,"color":"rgba(180,80,240,0)"},{"offset":0.87,"color":"rgba(180,80,240,0)"},
{"offset":0.87,"color":"rgba(180,80,240,0.6)"},{"offset":0.873,"color":"rgba(180,80,240,0)"},{"offset":0.88,"color":"rgba(180,80,240,0)"},
{"offset":0.88,"color":"rgba(180,80,240,0.6)"},{"offset":0.883,"color":"rgba(180,80,240,0)"},{"offset":0.89,"color":"rgba(180,80,240,0)"},
{"offset":0.89,"color":"rgba(180,80,240,0.6)"},{"offset":0.893,"color":"rgba(180,80,240,0)"},{"offset":0.9,"color":"rgba(180,80,240,0)"},
{"offset":0.9,"color":"rgba(180,80,240,0.6)"},{"offset":0.903,"color":"rgba(180,80,240,0)"},{"offset":0.91,"color":"rgba(180,80,240,0)"},
{"offset":0.91,"color":"rgba(180,80,240,0.6)"},{"offset":0.913,"color":"rgba(180,80,240,0)"},{"offset":0.92,"color":"rgba(180,80,240,0)"},
{"offset":0.92,"color":"rgba(180,80,240,0.6)"},{"offset":0.923,"color":"rgba(180,80,240,0)"},{"offset":0.93,"color":"rgba(180,80,240,0)"},
{"offset":0.93,"color":"rgba(180,80,240,0.6)"},{"offset":0.933,"color":"rgba(180,80,240,0)"},{"offset":0.94,"color":"rgba(180,80,240,0)"},
{"offset":0.94,"color":"rgba(180,80,240,0.6)"},{"offset":0.943,"color":"rgba(180,80,240,0)"},{"offset":0.95,"color":"rgba(180,80,240,0)"},
{"offset":0.95,"color":"rgba(180,80,240,0.6)"},{"offset":0.953,"color":"rgba(180,80,240,0)"},{"offset":0.96,"color":"rgba(180,80,240,0)"},
{"offset":0.96,"color":"rgba(180,80,240,0.6)"},{"offset":0.963,"color":"rgba(180,80,240,0)"},{"offset":0.97,"color":"rgba(180,80,240,0)"},
{"offset":0.97,"color":"rgba(180,80,240,0.6)"},{"offset":0.973,"color":"rgba(180,80,240,0)"},{"offset":0.98,"color":"rgba(180,80,240,0)"},
{"offset":0.98,"color":"rgba(180,80,240,0.6)"},{"offset":0.983,"color":"rgba(180,80,240,0)"},{"offset":0.99,"color":"rgba(180,80,240,0)"},
{"offset":0.99,"color":"rgba(180,80,240,0.6)"},{"offset":0.993,"color":"rgba(180,80,240,0)"},{"offset":1,"color":"rgba(180,80,240,0)"}
]}},
 "encoding":{
  "x":{"field":"x","type":"quantitative","title":null,"axis":null,"scale":{"domain":[30,1000],"nice":false,"zero":false}},
  "y":{"field":"t","type":"quantitative","title":null,"axis":null,"scale":{"domain":[20,500],"nice":false,"zero":false}},
  "y2":{"field":"b"}
 }},
{"data":{"name":"lines"},
 "mark":{"type":"line","clip":true,"strokeJoin":"round"},
 "encoding":{
  "x":{"field":"x","type":"quantitative","title":null,"axis":null,"scale":{"domain":[30,1000],"nice":false,"zero":false}},
  "y":{"field":"y","type":"quantitative","title":null,"axis":null,"scale":{"domain":[20,500],"nice":false,"zero":false}},
  "detail":{"field":"id"},
  "order":{"field":"o","type":"quantitative"},
  "stroke":{"field":"s","type":"nominal",
   "scale":{"domain":["Median Expected (μᵤₚ=1)","Observed","+/- Scale Uncertainty","Median Expected (Fermion Only)","Observed (Fermion Only)","FermiLAT","Planck+WMAP Relic"],"range":["#000000","#000000","#ff0000","#ffc000","#ffbb00","#22cc22","#b84cf2"]},
   "legend":{"orient":"none","legendX":26,"legendY":108,"title":null,"symbolType":"stroke","symbolSize":1369,"symbolOffset":14,"rowPadding":3,"padding":0,"labelFont":"Liberation Sans","labelFontSize":10,"labelColor":"black","labelOffset":21,"labelLimit":300,"symbolStrokeWidth":3,
    "encode":{"symbols":{"update":{
     "strokeWidth":{"signal":"datum.value === '+/- Scale Uncertainty' ? 1.3 : datum.value === 'Planck+WMAP Relic' ? 1.2 : 3"},
     "shape":{"signal":"datum.value === 'Planck+WMAP Relic' ? 'M-1,-0.27H1V0.27H-1Z' : 'M-1,0H1'"},
     "fill":{"signal":"datum.value === 'Planck+WMAP Relic' ? 'rgba(192,96,240,0.3)' : 'transparent'"}}}}}},
  "strokeDash":{"field":"s","type":"nominal",
   "scale":{"domain":["Median Expected (μᵤₚ=1)","Observed","+/- Scale Uncertainty","Median Expected (Fermion Only)","Observed (Fermion Only)","FermiLAT","Planck+WMAP Relic"],"range":[[5,4],[1,0],[1,0],[4,4],[1,0],[1,0],[1,0]]},
   "legend":{"orient":"none","legendX":26,"legendY":108,"title":null,"symbolType":"stroke","symbolSize":1369,"symbolOffset":14,"rowPadding":3,"padding":0,"labelFont":"Liberation Sans","labelFontSize":10,"labelColor":"black","labelOffset":21,"labelLimit":300,"symbolStrokeWidth":3,
    "encode":{"symbols":{"update":{
     "strokeWidth":{"signal":"datum.value === '+/- Scale Uncertainty' ? 1.3 : datum.value === 'Planck+WMAP Relic' ? 1.2 : 3"},
     "shape":{"signal":"datum.value === 'Planck+WMAP Relic' ? 'M-1,-0.27H1V0.27H-1Z' : 'M-1,0H1'"},
     "fill":{"signal":"datum.value === 'Planck+WMAP Relic' ? 'rgba(192,96,240,0.3)' : 'transparent'"}}}}}},
  "strokeWidth":{"condition":[{"test":"datum.s === '+/- Scale Uncertainty'","value":1.3},{"test":"datum.s === 'Planck+WMAP Relic'","value":1.5}],"value":3}
 }},
{"data":{"name":"arrow"},
 "mark":{"type":"line","clip":false,"stroke":"#bf4ff7","strokeWidth":8,"strokeCap":"butt"},
 "encoding":{
  "x":{"field":"x","type":"quantitative","title":null,"axis":null,"scale":{"domain":[30,1000],"nice":false,"zero":false}},
  "y":{"field":"y","type":"quantitative","title":null,"axis":null,"scale":{"domain":[20,500],"nice":false,"zero":false}},
  "order":{"field":"o","type":"quantitative"}
 }},
{"data":{"name":"head"},
 "mark":{"type":"point","clip":false,"filled":true,"fill":"#bf4ff7","opacity":1,"strokeWidth":0,"size":676,"angle":320,"shape":"M0,0.85L-1,-0.85L1,-0.85Z"},
 "encoding":{
  "x":{"field":"x","type":"quantitative","title":null,"axis":null,"scale":{"domain":[30,1000],"nice":false,"zero":false}},
  "y":{"field":"y","type":"quantitative","title":null,"axis":null,"scale":{"domain":[20,500],"nice":false,"zero":false}}
 }},
{"data":{"name":"one"},"mark":{"type":"text","text":"CMS","font":"Liberation Sans","fontSize":19,"fontWeight":"bold","align":"left","baseline":"alphabetic","clip":false},
 "encoding":{"x":{"datum":95.1,"type":"quantitative","title":null,"axis":null,"scale":{"domain":[30,1000],"nice":false,"zero":false}},"y":{"datum":456.7,"type":"quantitative","title":null,"axis":null,"scale":{"domain":[20,500],"nice":false,"zero":false}}}},
{"data":{"name":"one"},"mark":{"type":"text","text":"Preliminary","font":"Liberation Sans","fontSize":19,"fontStyle":"italic","align":"left","baseline":"alphabetic","clip":false},
 "encoding":{"x":{"datum":189.7,"type":"quantitative","title":null,"axis":null,"scale":{"domain":[30,1000],"nice":false,"zero":false}},"y":{"datum":456.7,"type":"quantitative","title":null,"axis":null,"scale":{"domain":[20,500],"nice":false,"zero":false}}}},
{"data":{"name":"one"},"mark":{"type":"text","text":"Pseudoscalar","font":"Liberation Sans","fontSize":17,"align":"left","baseline":"alphabetic","clip":false},
 "encoding":{"x":{"datum":513,"type":"quantitative","title":null,"axis":null,"scale":{"domain":[30,1000],"nice":false,"zero":false}},"y":{"datum":456.7,"type":"quantitative","title":null,"axis":null,"scale":{"domain":[20,500],"nice":false,"zero":false}}}},
{"data":{"name":"one"},"mark":{"type":"text","text":"g","font":"Liberation Sans","fontSize":17,"align":"left","baseline":"alphabetic","clip":false},
 "encoding":{"x":{"datum":93.1,"type":"quantitative","title":null,"axis":null,"scale":{"domain":[30,1000],"nice":false,"zero":false}},"y":{"datum":430.5,"type":"quantitative","title":null,"axis":null,"scale":{"domain":[20,500],"nice":false,"zero":false}}}},
{"data":{"name":"one"},"mark":{"type":"text","text":"DM","font":"Liberation Sans","fontSize":10,"align":"left","baseline":"alphabetic","clip":false},
 "encoding":{"x":{"datum":116.7,"type":"quantitative","title":null,"axis":null,"scale":{"domain":[30,1000],"nice":false,"zero":false}},"y":{"datum":420.2,"type":"quantitative","title":null,"axis":null,"scale":{"domain":[20,500],"nice":false,"zero":false}}}},
{"data":{"name":"one"},"mark":{"type":"text","text":"=g","font":"Liberation Sans","fontSize":17,"align":"left","baseline":"alphabetic","clip":false},
 "encoding":{"x":{"datum":148.3,"type":"quantitative","title":null,"axis":null,"scale":{"domain":[30,1000],"nice":false,"zero":false}},"y":{"datum":430.5,"type":"quantitative","title":null,"axis":null,"scale":{"domain":[20,500],"nice":false,"zero":false}}}},
{"data":{"name":"one"},"mark":{"type":"text","text":"q","font":"Liberation Sans","fontSize":10,"align":"left","baseline":"alphabetic","clip":false},
 "encoding":{"x":{"datum":189.7,"type":"quantitative","title":null,"axis":null,"scale":{"domain":[30,1000],"nice":false,"zero":false}},"y":{"datum":420.2,"type":"quantitative","title":null,"axis":null,"scale":{"domain":[20,500],"nice":false,"zero":false}}}},
{"data":{"name":"one"},"mark":{"type":"text","text":"=1","font":"Liberation Sans","fontSize":17,"align":"left","baseline":"alphabetic","clip":false},
 "encoding":{"x":{"datum":201.5,"type":"quantitative","title":null,"axis":null,"scale":{"domain":[30,1000],"nice":false,"zero":false}},"y":{"datum":430.5,"type":"quantitative","title":null,"axis":null,"scale":{"domain":[20,500],"nice":false,"zero":false}}}},
{"data":{"name":"one"},"mark":{"type":"text","text":"m","font":"Liberation Sans","fontSize":22,"align":"left","baseline":"alphabetic","clip":false},
 "encoding":{"x":{"datum":767.4,"type":"quantitative","title":null,"axis":null,"scale":{"domain":[30,1000],"nice":false,"zero":false}},"y":{"datum":-32.4,"type":"quantitative","title":null,"axis":null,"scale":{"domain":[20,500],"nice":false,"zero":false}}}},
{"data":{"name":"one"},"mark":{"type":"text","text":"med","font":"Liberation Sans","fontSize":13,"align":"left","baseline":"alphabetic","clip":false},
 "encoding":{"x":{"datum":806.8,"type":"quantitative","title":null,"axis":null,"scale":{"domain":[30,1000],"nice":false,"zero":false}},"y":{"datum":-47.3,"type":"quantitative","title":null,"axis":null,"scale":{"domain":[20,500],"nice":false,"zero":false}}}},
{"data":{"name":"one"},"mark":{"type":"text","text":"(GeV)","font":"Liberation Sans","fontSize":22,"align":"right","baseline":"alphabetic","clip":false},
 "encoding":{"x":{"datum":994.1,"type":"quantitative","title":null,"axis":null,"scale":{"domain":[30,1000],"nice":false,"zero":false}},"y":{"datum":-32.4,"type":"quantitative","title":null,"axis":null,"scale":{"domain":[20,500],"nice":false,"zero":false}}}},
{"data":{"name":"one"},"mark":{"type":"text","text":"m","font":"Liberation Sans","fontSize":23,"angle":270,"align":"left","baseline":"alphabetic","clip":false},
 "encoding":{"x":{"datum":-115.9,"type":"quantitative","title":null,"axis":null,"scale":{"domain":[30,1000],"nice":false,"zero":false}},"y":{"datum":375.7,"type":"quantitative","title":null,"axis":null,"scale":{"domain":[20,500],"nice":false,"zero":false}}}},
{"data":{"name":"one"},"mark":{"type":"text","text":"DM","font":"Liberation Sans","fontSize":13,"angle":270,"align":"left","baseline":"alphabetic","clip":false},
 "encoding":{"x":{"datum":-92.2,"type":"quantitative","title":null,"axis":null,"scale":{"domain":[30,1000],"nice":false,"zero":false}},"y":{"datum":398.5,"type":"quantitative","title":null,"axis":null,"scale":{"domain":[20,500],"nice":false,"zero":false}}}},
{"data":{"name":"one"},"mark":{"type":"text","text":"(GeV)","font":"Liberation Sans","fontSize":23,"angle":270,"align":"right","baseline":"alphabetic","clip":false},
 "encoding":{"x":{"datum":-115.9,"type":"quantitative","title":null,"axis":null,"scale":{"domain":[30,1000],"nice":false,"zero":false}},"y":{"datum":498.9,"type":"quantitative","title":null,"axis":null,"scale":{"domain":[20,500],"nice":false,"zero":false}}}},
{"data":{"name":"one"},"mark":{"type":"text","text":"μ","font":"Liberation Sans","fontSize":17,"angle":90,"align":"left","baseline":"alphabetic","clip":false},
 "encoding":{"x":{"datum":1136,"type":"quantitative","title":null,"axis":null,"scale":{"domain":[30,1000],"nice":false,"zero":false}},"y":{"datum":503.4,"type":"quantitative","title":null,"axis":null,"scale":{"domain":[20,500],"nice":false,"zero":false}}}},
{"data":{"name":"one"},"mark":{"type":"text","text":"up","font":"Liberation Sans","fontSize":13,"angle":90,"align":"left","baseline":"alphabetic","clip":false},
 "encoding":{"x":{"datum":1108.4,"type":"quantitative","title":null,"axis":null,"scale":{"domain":[30,1000],"nice":false,"zero":false}},"y":{"datum":477.2,"type":"quantitative","title":null,"axis":null,"scale":{"domain":[20,500],"nice":false,"zero":false}}}},
{"data":{"name":"one"},"mark":{"type":"text","text":"12.9 fb⁻¹ (13 TeV)","font":"Liberation Sans","fontSize":16,"align":"right","baseline":"alphabetic","clip":false},
 "encoding":{"x":{"datum":1027.6,"type":"quantitative","title":null,"axis":null,"scale":{"domain":[30,1000],"nice":false,"zero":false}},"y":{"datum":517.1,"type":"quantitative","title":null,"axis":null,"scale":{"domain":[20,500],"nice":false,"zero":false}}}}
]
}
